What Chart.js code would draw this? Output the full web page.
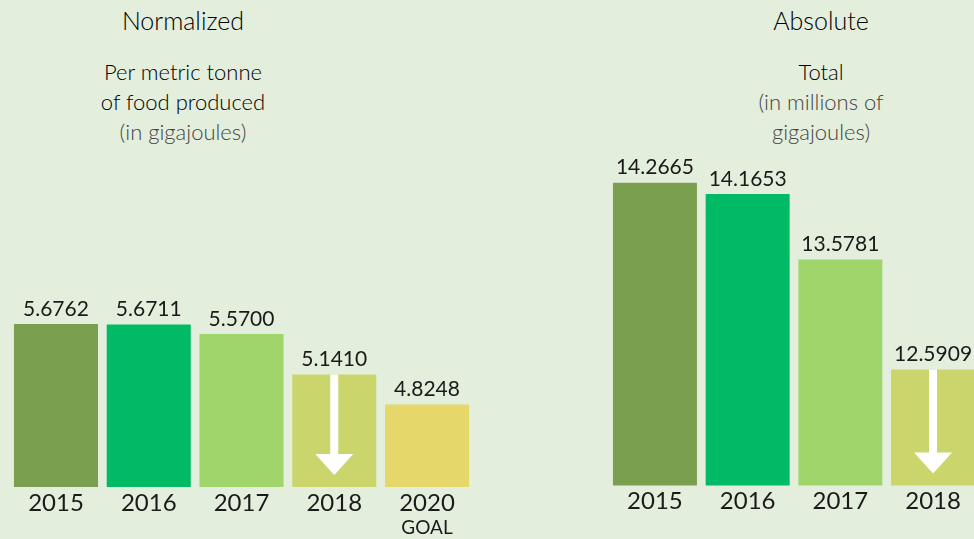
<!DOCTYPE html>
<html>
<head>
<meta charset="utf-8">
<script src="https://cdn.jsdelivr.net/npm/chart.js@4"></script>
<style>
  html, body { margin: 0; padding: 0; width: 974px; height: 539px; overflow: hidden; background: #e4eedc; font-family: 'Lato', sans-serif; }
  .head { position: absolute; text-align: center; color: #000; font-weight: 300; }
  .head .t { font-size: 25px; line-height: 30px; position: absolute; top: 5px; width: 100%; }
  .head .s { font-size: 22px; line-height: 30px; position: absolute; top: 57px; width: 100%; }
  .gray { color: #444; }
  canvas { position: absolute; top: 0; }
</style>
</head>
<body>
<div class="head" style="left:33px;width:300px;">
  <div class="t">Normalized</div>
  <div class="s">Per metric tonne<br>of food produced<br><span class="gray">(in gigajoules)</span></div>
</div>
<div class="head" style="left:671px;width:300px;">
  <div class="t">Absolute</div>
  <div class="s">Total<br><span class="gray">(in millions of<br>gigajoules)</span></div>
</div>
<canvas id="normChart" width="480" height="539" style="left:0px;"></canvas>
<canvas id="absChart" width="390" height="539" style="left:600px;"></canvas>
<script>
// normalized: per metric tonne of food produced (GJ)
const normYears = ['2015', '2016', '2017', '2018', '2020'];
const normValues = [5.6762, 5.6711, 5.5700, 5.1410, 4.8248];
const normColors = ['#7aa04f', '#00ba65', '#a0d56b', '#cad66b', '#e5d76a'];

// absolute: total (millions of GJ)
const absYears = ['2015', '2016', '2017', '2018'];
const absValues = [14.2665, 14.1653, 13.5781, 12.5909];
const absColors = ['#7aa04f', '#00ba65', '#a0d56b', '#cad66b'];

const TEXT = '#1a1a1a';

// labels above/below bars + white arrow on the 2018 bar
const barDecor = {
  id: 'barDecor',
  afterDatasetsDraw(chart) {
    const ctx = chart.ctx;
    const area = chart.chartArea;
    const meta = chart.getDatasetMeta(0);
    const labels = chart.data.labels;
    ctx.save();
    ctx.textAlign = 'center';
    ctx.textBaseline = 'middle';
    meta.data.forEach((bar, i) => {
      const v = chart.data.datasets[0].data[i];
      ctx.fillStyle = TEXT;
      ctx.font = '21px Lato';
      ctx.fillText(v.toFixed(4), bar.x, bar.y - 15);
      ctx.font = '24px Lato';
      ctx.fillText(labels[i], bar.x, area.bottom + 16);
      if (labels[i] === '2020') {
        ctx.font = '19px Lato';
        ctx.fillText('GOAL', bar.x, area.bottom + 41);
      }
      if (labels[i] === '2018') {
        const headTop = area.bottom - 33;
        const tip = area.bottom - 12;
        ctx.fillStyle = '#ffffff';
        ctx.fillRect(bar.x - 4, bar.y, 8, headTop - bar.y + 1);
        ctx.beginPath();
        ctx.moveTo(bar.x - 19, headTop);
        ctx.lineTo(bar.x + 19, headTop);
        ctx.lineTo(bar.x, tip);
        ctx.closePath();
        ctx.fill();
      }
    });
    ctx.restore();
  }
};

function renderPanel(canvasId, labels, values, colors, yMin, yMax, padding) {
  const ctx = document.getElementById(canvasId)?.getContext('2d');
  if (!ctx) return null;

  return new Chart(ctx, {
    type: 'bar',
    data: {
      labels: labels,
      datasets: [{
        data: values,
        backgroundColor: colors,
        borderWidth: 0,
        barPercentage: 0.906,
        categoryPercentage: 1,
      }]
    },
    options: {
      responsive: false,
      devicePixelRatio: 1,
      animation: false,
      layout: { padding: padding },
      plugins: {
        legend: { display: false },
        tooltip: { enabled: false },
      },
      scales: {
        x: { display: false },
        y: { display: false, min: yMin, max: yMax }
      }
    },
    plugins: [barDecor]
  });
}

renderPanel('normChart', normYears, normValues, normColors, 3.95, 7.415,
  { left: 9.6, right: 6.6, top: 160, bottom: 52 });
renderPanel('absChart', absYears, absValues, absColors, 11.55, 14.47,
  { left: 8.6, right: 10.6, top: 160, bottom: 53.5 });
</script>
</body>
</html>
